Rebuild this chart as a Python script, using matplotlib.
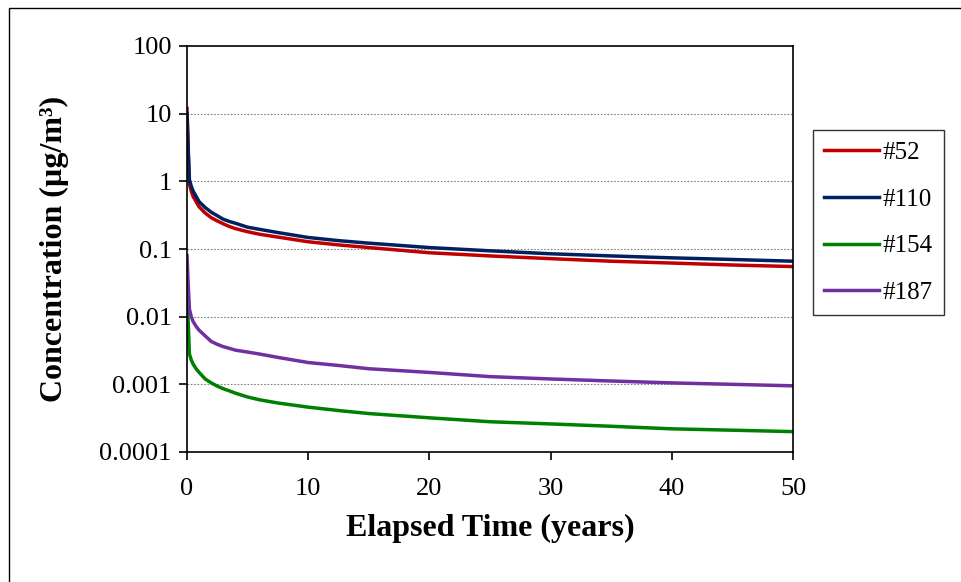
import matplotlib
matplotlib.use("Agg")
import matplotlib.pyplot as plt
from matplotlib.ticker import FixedLocator, FixedFormatter, NullLocator
from matplotlib.patches import Rectangle

plt.rcParams['font.family'] = ['Liberation Serif', 'DejaVu Serif']

# Elapsed time (years)
years = [0, 0.1, 0.2, 0.35, 0.5, 0.75, 1, 1.5, 2, 2.5, 3, 3.5, 4, 5, 6, 7.5,
         10, 12.5, 15, 20, 25, 30, 35, 40, 45, 50]

# concentrations (ug/m3)
c52 = [12, 3.0, 0.9, 0.72, 0.6, 0.5, 0.42, 0.34, 0.29, 0.26, 0.235, 0.215,
       0.2, 0.18, 0.165, 0.15, 0.128, 0.115, 0.105, 0.088, 0.079, 0.072,
       0.066, 0.062, 0.058, 0.055]
c110 = [10, 2.8, 1.05, 0.85, 0.72, 0.6, 0.5, 0.41, 0.35, 0.31, 0.275, 0.255,
        0.24, 0.21, 0.195, 0.175, 0.148, 0.133, 0.122, 0.105, 0.094, 0.085,
        0.079, 0.074, 0.07, 0.066]
c154 = [0.02, 0.008, 0.0028, 0.0023, 0.002, 0.0017, 0.0015, 0.0012,
        0.00105, 0.00094, 0.00086, 0.0008, 0.00074, 0.00065, 0.00059,
        0.00053, 0.00046, 0.00041, 0.00037, 0.00032, 0.00028, 0.00026,
        0.00024, 0.00022, 0.00021, 0.0002]
c187 = [0.08, 0.03, 0.013, 0.01, 0.0085, 0.0072, 0.0063, 0.0052, 0.0043,
        0.0039, 0.0036, 0.0034, 0.0032, 0.003, 0.0028, 0.0025, 0.0021,
        0.0019, 0.0017, 0.0015, 0.0013, 0.0012, 0.00112, 0.00105, 0.001,
        0.00095]

series = [("#52", c52, "#C00000"),
          ("#110", c110, "#002060"),
          ("#154", c154, "#008000"),
          ("#187", c187, "#7030A0")]

ytick_vals = [0.0001, 0.001, 0.01, 0.1, 1, 10, 100]
ytick_labels = ["0.0001", "0.001", "0.01", "0.1", "1", "10", "100"]
xtick_vals = [0, 10, 20, 30, 40, 50]

fig = plt.figure(figsize=(9.61, 5.82), dpi=100)
# outer chart border (right and bottom edges fall outside the image)
fig.patches.append(Rectangle((9 / 961, -0.05), 1.0, 1 - 8 / 582 + 0.05,
                             transform=fig.transFigure, fill=False,
                             edgecolor="black", linewidth=1.0))

ax = fig.add_axes([187 / 961, 1 - 452 / 582, (793 - 187) / 961, (452 - 46) / 582])

for name, vals, col in series:
    ax.plot(years, vals, color=col, linewidth=2.5, label=name)

ax.set_yscale("log")
ax.set_ylim(0.0001, 100)
ax.set_xlim(0, 50)
ax.yaxis.set_major_locator(FixedLocator(ytick_vals))
ax.yaxis.set_major_formatter(FixedFormatter(ytick_labels))
ax.yaxis.set_minor_locator(NullLocator())
ax.set_xticks(xtick_vals)

for v in ytick_vals[1:-1]:
    ax.axhline(v, color="#808080", linestyle=(0, (1.5, 1.5)), linewidth=0.8, zorder=0)

ax.tick_params(axis="both", direction="out", length=6, width=1.2,
               labelsize=19, colors="black")
ax.tick_params(axis="y", pad=5)
ax.tick_params(axis="x", pad=13)
for s in ax.spines.values():
    s.set_linewidth(1.2)
    s.set_color("black")

ax.set_xlabel("Elapsed Time (years)", fontsize=23, fontweight="bold", labelpad=10)
ax.set_ylabel("Concentration (µg/m³)", fontsize=23, fontweight="bold", labelpad=22)

leg = ax.legend(loc="upper left", bbox_to_anchor=(813 / 961, 1 - 130 / 582),
                bbox_transform=fig.transFigure, fontsize=18,
                frameon=True, fancybox=False, edgecolor="black",
                borderpad=0.45, labelspacing=0.97, handlelength=2.2,
                handletextpad=0.12, borderaxespad=0)
leg.get_frame().set_linewidth(1.0)

fig.savefig("out.png", dpi=100)
